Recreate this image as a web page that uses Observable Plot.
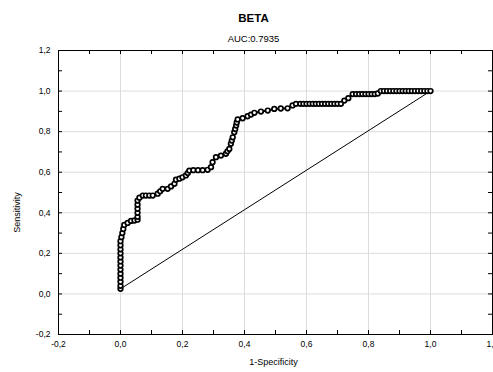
<!DOCTYPE html>
<html>
<head>
<meta charset="utf-8">
<script src="https://cdn.jsdelivr.net/npm/d3@7"></script>
<script src="https://cdn.jsdelivr.net/npm/@observablehq/plot@0.6"></script>
<style>
  html, body { margin: 0; padding: 0; background: #fff; }
  #chart svg { display: block; }
</style>
</head>
<body>
<div id="chart"></div>
<script>
const title = "BETA";
const subtitle = "AUC:0.7935";
const xLabel = "1-Specificity";
const yLabel = "Sensitivity";

const majorTicks = [-0.2, 0, 0.2, 0.4, 0.6, 0.8, 1.0, 1.2];
const minorTicks = [-0.2, -0.1, 0, 0.1, 0.2, 0.3, 0.4, 0.5, 0.6, 0.7, 0.8, 0.9, 1.0, 1.1, 1.2];
const gridTicks = [0, 0.2, 0.4, 0.6, 0.8, 1.0];

// ROC curve points (1-specificity, sensitivity)
const fpr = [
  0,0,0,0,0,0,0,0,0,0,0,0,0,
  0.003,0.006,0.009,0.012,0.023,0.034,0.045,0.055,
  0.055,0.055,0.055,0.055,0.055,0.061,0.072,0.082,0.093,0.104,
  0.12,0.128,0.136,0.152,0.163,0.174,0.179,0.19,0.2,0.211,0.217,0.222,
  0.235,0.25,0.265,0.281,0.292,0.297,0.308,0.324,0.34,0.345,0.351,0.356,
  0.359,0.362,0.367,0.37,0.373,0.375,0.378,0.394,0.41,0.421,0.432,0.453,
  0.475,0.496,0.517,0.539,0.555,0.566,0.58,0.59,0.6,0.61,0.62,0.63,0.64,
  0.65,0.66,0.67,0.68,0.69,0.70,0.711,0.722,0.735,0.749,0.76,0.77,0.78,
  0.79,0.80,0.81,0.82,0.83,0.84,0.85,0.86,0.87,0.88,0.89,0.90,0.91,0.92,
  0.93,0.94,0.95,0.96,0.97,0.98,0.99,1.0
];
const tpr = [
  0.025,0.04,0.06,0.08,0.10,0.12,0.14,0.16,0.18,0.20,0.22,0.24,0.26,
  0.28,0.30,0.32,0.34,0.35,0.36,0.362,0.366,
  0.38,0.40,0.42,0.44,0.46,0.474,0.485,0.485,0.485,0.485,
  0.494,0.506,0.518,0.518,0.53,0.543,0.563,0.568,0.575,0.584,0.596,0.608,
  0.61,0.61,0.61,0.612,0.625,0.649,0.674,0.682,0.691,0.703,0.715,0.74,
  0.756,0.772,0.797,0.813,0.83,0.845,0.86,0.866,0.876,0.884,0.893,0.899,
  0.904,0.912,0.914,0.915,0.929,0.937,0.937,0.937,0.937,0.937,0.937,0.937,0.937,
  0.937,0.937,0.937,0.937,0.937,0.937,0.937,0.953,0.965,0.985,0.985,0.985,0.985,
  0.985,0.985,0.985,0.985,0.988,1.0,1.0,1.0,1.0,1.0,1.0,1.0,1.0,1.0,
  1.0,1.0,1.0,1.0,1.0,1.0,1.0,1.0
];
const roc = fpr.map((x, i) => ({x, y: tpr[i]}));

const diagX = [0, 1];
const diagY = [0.025, 1.0];
const diag = diagX.map((x, i) => ({x, y: diagY[i]}));

const fmt = d => d3.format(".1f")(d).replace("−", "-").replace(".", ",");
const font = "'Liberation Sans', Arial, Helvetica, sans-serif";

const W = 493, H = 372, mL = 58, mR = 1, mT = 50, mB = 38;
const fw = W - mL - mR, fh = H - mT - mB;

const chart = Plot.plot({
  width: W,
  height: H,
  marginLeft: mL,
  marginRight: mR,
  marginTop: mT,
  marginBottom: mB,
  style: {fontFamily: font, fontSize: "8.5px", background: "#fff", color: "#000", overflow: "visible"},
  x: {domain: [-0.2, 1.2]},
  y: {domain: [-0.2, 1.2]},
  marks: [
    Plot.ruleX(gridTicks, {stroke: "#dcdcdc", strokeWidth: 1}),
    Plot.ruleY(gridTicks, {stroke: "#dcdcdc", strokeWidth: 1}),
    Plot.tickX(minorTicks, {x: d => d, insetTop: fh - 4, stroke: "#000"}),
    Plot.tickX(minorTicks, {x: d => d, insetBottom: fh - 4, stroke: "#000"}),
    Plot.tickY(minorTicks, {y: d => d, insetRight: fw - 4, stroke: "#000"}),
    Plot.tickY(minorTicks, {y: d => d, insetLeft: fw - 4, stroke: "#000"}),
    Plot.axisX({ticks: majorTicks, tickFormat: fmt, tickSize: 0, tickPadding: 6, label: null, fontSize: 8.5}),
    Plot.axisY({ticks: majorTicks, tickFormat: fmt, tickSize: 0, tickPadding: 8, label: null, fontSize: 8.5}),
    Plot.frame({stroke: "#000", strokeWidth: 1}),
    Plot.line(diag, {x: "x", y: "y", stroke: "#000", strokeWidth: 1}),
    Plot.line(roc, {x: "x", y: "y", stroke: "#000", strokeWidth: 2}),
    Plot.dot(roc, {x: "x", y: "y", r: 2.3, stroke: "#000", strokeWidth: 1.7, fill: "#fff"}),
    Plot.text([title], {frameAnchor: "top-left", dx: 195, dy: -32, textAnchor: "middle", lineAnchor: "middle", fontWeight: "bold", fontSize: 11.5}),
    Plot.text([subtitle], {frameAnchor: "top-left", dx: 195, dy: -12, textAnchor: "middle", lineAnchor: "middle", fontSize: 9.5}),
    Plot.text([xLabel], {frameAnchor: "bottom", dx: -2, dy: 28, textAnchor: "middle", lineAnchor: "middle", fontSize: 9}),
    Plot.text([yLabel], {frameAnchor: "left", dx: -41, dy: 20, rotate: -90, textAnchor: "middle", lineAnchor: "middle", fontSize: 9})
  ]
});
document.getElementById("chart").appendChild(chart);
</script>
</body>
</html>
